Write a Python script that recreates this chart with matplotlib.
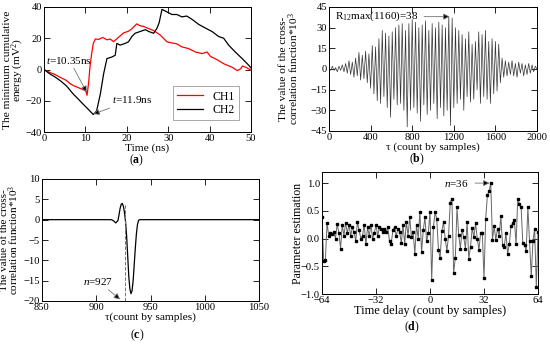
import numpy as np
import matplotlib.pyplot as plt

plt.rcParams['font.family'] = ['Liberation Serif', 'DejaVu Serif']
plt.rcParams['mathtext.fontset'] = 'custom'
plt.rcParams['mathtext.rm'] = 'Liberation Serif'
plt.rcParams['mathtext.it'] = 'Liberation Serif:italic'
plt.rcParams['mathtext.bf'] = 'Liberation Serif:bold'

# (a) minimum cumulative energy
ch1_t = [0, 1.5, 2.5, 3.9, 5.4, 6.3, 7.1, 8.2, 9.5, 10.1, 10.4, 10.8, 11.1, 11.5, 11.9,
         12.4, 13.2, 14.2, 15.2, 16.0, 16.8, 18.0, 19.2, 20.4, 21.2, 22.4, 23.2, 24.0,
         25.0, 26.5, 28.1, 29.7, 30.9, 32.0, 33.3, 34.9, 36.6, 38.2, 39.4, 40.2, 41.8,
         43.4, 45.4, 46.7, 47.5, 47.9, 48.7, 50.0]
ch1_v = [0, -2, -3, -5, -7, -9, -10.3, -11.5, -13, -13.7, -16.5, -8, 1.5, 10, 16.6,
         19.5, 19.3, 20.5, 19, 19.5, 17.8, 20.6, 23.4, 24.5, 26, 29.2, 28, 27.6,
         26.5, 24.9, 22, 17.7, 17, 16.5, 14.5, 13.4, 11.2, 10.2, 11.2, 8.4, 6.3,
         3.7, 1.5, -0.7, 0.4, 2.2, 1.5, -0.5]
ch2_t = [0, 1.5, 2.5, 3.9, 5.4, 7.1, 8.3, 9.5, 10.7, 11.9, 12.7, 13.6, 14.4, 15.2,
         16.4, 17.2, 17.6, 18.4, 19.6, 20.4, 21.2, 22.0, 23.2, 24.5, 25.3, 26.5, 27.3,
         27.8, 28.5, 29.3, 30.9, 32.1, 33.3, 34.5, 35.8, 37.4, 39.0, 40.6, 42.2, 43.4,
         44.6, 46.2, 47.9, 49.5, 50.0]
ch2_v = [0, -3, -4.5, -7.1, -10.4, -15.8, -19, -22.3, -25.5, -28.8, -26.6, -15.8, -2.8, 7,
         8, 9.1, 16.7, 15.6, 16.7, 17.7, 21, 23.2, 24.3, 25.5, 24.3, 23.2, 26.5,
         29.8, 38.5, 37.4, 35.2, 35.2, 33.7, 34.2, 32, 28.8, 26.5, 24.3, 21.1, 20,
         15.6, 11.2, 6.9, 2.6, 1]

# (b) cross-correlation, extreme values every 16 samples
b_vals = [1, -1, 2, -1, 1, -2, 2, -1, 3, -2,
          4, -3, 6, -4, 5, -6, 8, -5, 12, -8,
          10, -7, 13, -10, 11, -14, 17, -18, 16, -23,
          22, -25, 28, -20, 26, -28, 24, -35, 27, -22,
          30, -26, 32, -25, 33, -30, 28, -42, 33, -30,
          36, -28, 34, -32, 30, -38, 32, -26, 35, -33,
          28, -30, 33, -25, 30, -36, 34, -28, 32, -34,
          30, -30, 38, -41, 37, -28, 30, -25, 28, -22,
          25, -30, 22, -20, 27, -24, 18, -22, 20, -15,
          27, -25, 25, -20, 28, -22, 20, -25, 22, -18,
          20, -16, 18, -10, 8, -6, 6, -5, 5, -4,
          6, -5, 4, -6, 5, -3, 4, -5, 3, -4,
          4, -3, 3, -2, 2, 0]
b_tau = np.arange(0, 2001, 16)

# (c) zoomed cross-correlation
c_tau = [850, 914, 916, 918, 920, 921, 922, 923, 924, 925, 926, 927, 928, 929, 930,
         931, 932, 933, 934, 935, 936, 937, 938, 939, 940, 1050]
c_val = [0, 0, -0.3, -0.8, -0.2, 1.2, 2.8, 3.8, 4.0, 3.3, 1.8, -0.5, -4, -9, -14,
         -17, -18.2, -17.5, -15, -11, -7, -3.5, -1.2, -0.2, 0, 0]

# (d) parameter estimation for delays -64..64
d_delay = np.arange(-64, 65)
d_est = [0.38, -0.40, -0.38, 0.28, 0.05, 0.10, 0.08, 0.12, 0.00, 0.27,
         0.10, -0.18, 0.25, 0.05, 0.28, 0.10, 0.25, 0.05, 0.20, 0.12,
         -0.05, 0.30, 0.15, 0.00, 0.05, 0.25, -0.10, 0.20, 0.05, 0.25,
         0.00, 0.10, 0.25, 0.05, 0.20, 0.18, 0.12, 0.18, 0.12, 0.20,
         -0.05, -0.10, 0.15, 0.20, 0.05, 0.18, 0.12, -0.08, 0.25, -0.10,
         0.30, 0.05, 0.38, 0.02, 0.12, -0.28, 0.25, 0.00, 0.48, -0.25,
         0.15, 0.38, -0.05, 0.10,
         0.48, -0.75, 0.20, 0.47, 0.36, -0.20, -0.35, 0.13, 0.30, 0.00,
         -0.22, 0.05, 0.65, 0.72, -0.62, -0.35, 0.56, 0.07, -0.18, 0.16,
         0.02, -0.18, 0.30, -0.36, -0.15, 0.19, 0.02, 0.28, 0.00, -0.20,
         0.10, 0.10, -0.72, 0.35, 0.78, 0.85, 1.00, -0.02, 0.22, -0.02,
         0.18, 0.05, 0.40, -0.12, -0.15, 0.10, -0.28, -0.10, 0.22, 0.28,
         0.33, -0.10, 0.72, 0.62, 0.56, -0.08, -0.12, -0.22, 0.56, -0.05,
         -0.68, -0.05, 0.18, -0.88, 0.12]

LAB = 8.2
TICK = 7.6
ANN = 8


def style(ax, ylab_x):
    ax.tick_params(direction='in', top=True, right=True, length=4, width=0.6,
                   labelsize=TICK, pad=1.5)
    for s in ax.spines.values():
        s.set_linewidth(0.7)
    ax.yaxis.set_label_coords(ylab_x, 0.5)


fig = plt.figure(figsize=(5.5, 3.44), dpi=100)
W, H = 550, 344


def box(l, r, t, b):
    return [l / W, 1 - b / H, (r - l) / W, (b - t) / H]


# (a)
ax = fig.add_axes(box(44, 251, 7, 132))
ax.plot(ch1_t, ch1_v, color='red', lw=0.9, label='CH1')
ax.plot(ch2_t, ch2_v, color='black', lw=0.9, label='CH2')
ax.set_xlim(0, 50)
ax.set_ylim(-40, 40)
ax.set_xticks([0, 10, 20, 30, 40, 50])
ax.set_yticks([-40, -20, 0, 20, 40])
ax.set_xlabel('Time (ns)', fontsize=LAB, labelpad=0)
ax.set_ylabel('The minimum cumulative\nenergy (mV$^2$)', fontsize=LAB, linespacing=0.85)
arr = dict(arrowstyle='-|>', ec='0.45', fc='k', lw=0.6, mutation_scale=9, shrinkA=0, shrinkB=0)
ax.annotate('$t$=10.35ns', xy=(10.3, -14.5), xytext=(0.6, 6), fontsize=ANN,
            va='center', arrowprops=arr)
ax.annotate('$t$=11.9ns', xy=(11.9, -28.5), xytext=(16.5, -19.5), fontsize=ANN,
            va='center', arrowprops=arr)
leg = ax.legend(loc='lower right', fontsize=8.5, fancybox=False, edgecolor='0.5',
                handlelength=2.2, borderpad=0.35, labelspacing=0.1,
                bbox_to_anchor=(0.97, 0.05))
leg.get_frame().set_linewidth(0.6)
style(ax, -0.085)

# (b)
ax = fig.add_axes(box(329, 537, 7, 131))
ax.plot(b_tau, b_vals, color='0.2', lw=0.5)
ax.set_xlim(0, 2000)
ax.set_ylim(-45, 45)
ax.set_xticks([0, 400, 800, 1200, 1600, 2000])
ax.set_yticks([-45, -30, -15, 0, 15, 30, 45])
ax.set_xlabel('τ (count by samples)', fontsize=LAB, labelpad=0)
ax.set_ylabel('The value of the cross-\ncorrelation function*10$^3$', fontsize=LAB,
              linespacing=0.85)
ax.annotate('R$_{12}$max(1160)=38', xy=(1160, 38), xytext=(60, 38), fontsize=ANN,
            va='center', arrowprops=dict(arrowstyle='-|>', ec='0.45', fc='k', lw=0.6,
                                         mutation_scale=9, shrinkA=2, shrinkB=0))
style(ax, -0.135)

# (c)
ax = fig.add_axes(box(42, 259, 179, 301))
ax.plot(c_tau, c_val, color='k', lw=0.9)
ax.plot([926.5, 926.5], [-20, 3.6], color='0.45', lw=0.7, ls='--')
ax.set_xlim(850, 1050)
ax.set_ylim(-20, 10)
ax.set_xticks([850, 900, 950, 1000, 1050])
ax.set_yticks([-20, -15, -10, -5, 0, 5, 10])
ax.set_xlabel('τ(count by samples)', fontsize=LAB, labelpad=0)
ax.set_ylabel('The value of the cross-\ncorrelation function*10$^3$', fontsize=LAB - 0.2,
              linespacing=0.85)
ax.annotate('$n$=927', xy=(922, -19.6), xytext=(888, -15.2), fontsize=ANN,
            va='center', arrowprops=dict(arrowstyle='-|>', ec='0.45', fc='k', lw=0.6,
                                         mutation_scale=9, shrinkA=0, shrinkB=0))
style(ax, -0.095)

# (d)
ax = fig.add_axes(box(322, 538, 172, 294))
ax.plot(d_delay, d_est, color='0.4', lw=0.7, marker='s', ms=1.8, mfc='k', mec='k')
ax.set_xlim(-64, 64)
ax.set_ylim(-1.0, 1.2)
ax.set_xticks([-64, -32, 0, 32, 64])
ax.set_yticks([-1.0, -0.5, 0.0, 0.5, 1.0])
ax.set_xlabel('Time delay (count by samples)', fontsize=LAB + 0.6, labelpad=0)
ax.set_ylabel('Parameter estimation', fontsize=LAB + 0.4)
ax.annotate('$n$=36', xy=(35.3, 1.0), xytext=(8, 1.0), fontsize=ANN,
            va='center', arrowprops=dict(arrowstyle='-|>', ec='0.45', fc='k', lw=0.6,
                                         mutation_scale=9, shrinkA=3, shrinkB=0))
style(ax, -0.085)

# panel captions
for x, y, s in [(137, 160, 'a'), (417, 159, 'b'), (137, 335, 'c'), (412, 327, 'd')]:
    fig.text(x / W, 1 - y / H, '($\\mathbf{%s}$)' % s, ha='center', va='center', fontsize=8.5)

fig.savefig('out.png', dpi=100)
